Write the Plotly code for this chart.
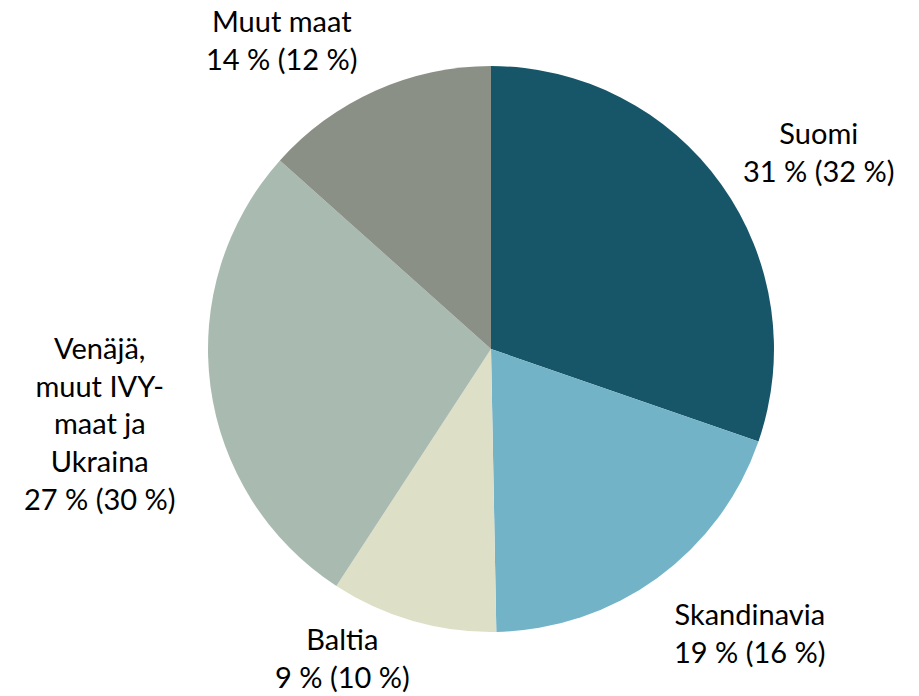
import math
import plotly.graph_objects as go

labels = ["Suomi", "Skandinavia", "Baltia", "Venäjä, muut IVY-maat ja Ukraina", "Muut maat"]
label_text = ["Suomi", "Skandinavia", "Baltia", "Venäjä,<br>muut IVY-<br>maat ja<br>Ukraina", "Muut maat"]
# slice sizes
values = [30.3, 19.4, 9.5, 27.4, 13.4]
# percentages printed in the labels (current and previous year)
shown_pct = [31, 19, 9, 27, 14]
prev_pct = [32, 16, 10, 30, 12]
colors = ["#175669", "#72B3C8", "#DEDFC7", "#A9BAB0", "#8B9086"]

W, H = 919, 696
cx, cy, R = 491, 349, 283

fig = go.Figure(go.Pie(
    labels=labels, values=values, sort=False, direction="clockwise", rotation=0,
    marker=dict(colors=colors, line=dict(width=0)),
    textinfo="none", hoverinfo="label+percent", showlegend=False,
    domain=dict(x=[(cx - R) / W, (cx + R) / W], y=[1 - (cy + R) / H, 1 - (cy - R) / H]),
))

# label placement: radial distance factor and small nudges (px) per label
dist = [1.35, 1.36, 1.22, 1.40, 1.32]
nudge = [(17, 24), (33, -28), (-53, -23), (2, 22), (-56, 31)]
total = sum(values)
cum = 0
annotations = []
for i, v in enumerate(values):
    mid = (cum + v / 2) / total * 2 * math.pi
    cum += v
    px = cx + dist[i] * R * math.sin(mid) + nudge[i][0]
    py = cy - dist[i] * R * math.cos(mid) + nudge[i][1]
    annotations.append(dict(
        x=px / W, y=1 - py / H, xref="paper", yref="paper",
        text=f"{label_text[i]}<br>{shown_pct[i]} % ({prev_pct[i]} %)",
        showarrow=False, xanchor="center", yanchor="middle", align="center",
        font=dict(family="Lato, Carlito, Calibri, sans-serif", size=29, color="#000000"),
    ))

fig.update_layout(
    width=W, height=H, margin=dict(l=0, r=0, t=0, b=0),
    paper_bgcolor="white", plot_bgcolor="white",
    annotations=annotations,
)
fig.write_html("out.html", config={"displayModeBar": False},
               post_script="document.body.style.margin='0';")
